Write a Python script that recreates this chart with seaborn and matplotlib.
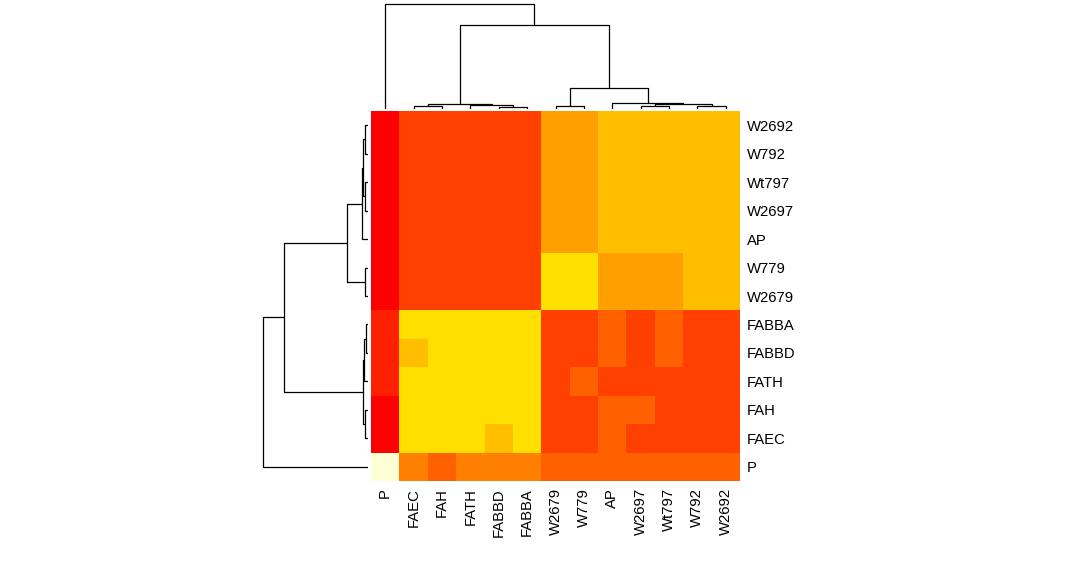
import numpy as np
import pandas as pd
import seaborn as sns
from matplotlib import pyplot as plt
from matplotlib.colors import ListedColormap

# -------------------------------------------
# data

# leaf order of the dendrogram (left -> right, bottom -> top)
leaf_order = ['P', 'FAEC', 'FAH', 'FATH', 'FABBD', 'FABBA',
              'W2679', 'W779', 'AP', 'W2697', 'Wt797', 'W792', 'W2692']
row_labels = leaf_order[::-1]
col_labels = leaf_order

# R heat.colors(12)
heat_colors = ['#FF0000', '#FF2000', '#FF4000', '#FF6000', '#FF8000', '#FF9F00',
               '#FFBF00', '#FFDF00', '#FFFF00', '#FFFF2A', '#FFFF80', '#FFFFD5']

# colour level of each cell, rows top -> bottom
levels = [
    [0, 2, 2, 2, 2, 2, 5, 5, 6, 6, 6, 6, 6],   # W2692
    [0, 2, 2, 2, 2, 2, 5, 5, 6, 6, 6, 6, 6],   # W792
    [0, 2, 2, 2, 2, 2, 5, 5, 6, 6, 6, 6, 6],   # Wt797
    [0, 2, 2, 2, 2, 2, 5, 5, 6, 6, 6, 6, 6],   # W2697
    [0, 2, 2, 2, 2, 2, 5, 5, 6, 6, 6, 6, 6],   # AP
    [0, 2, 2, 2, 2, 2, 7, 7, 5, 5, 5, 6, 6],   # W779
    [0, 2, 2, 2, 2, 2, 7, 7, 5, 5, 5, 6, 6],   # W2679
    [1, 7, 7, 7, 7, 7, 2, 2, 3, 2, 3, 2, 2],   # FABBA
    [1, 6, 7, 7, 7, 7, 2, 2, 3, 2, 3, 2, 2],   # FABBD
    [1, 7, 7, 7, 7, 7, 2, 3, 2, 2, 2, 2, 2],   # FATH
    [0, 7, 7, 7, 7, 7, 2, 2, 3, 3, 2, 2, 2],   # FAH
    [0, 7, 7, 7, 6, 7, 2, 2, 3, 2, 2, 2, 2],   # FAEC
    [11, 4, 3, 4, 4, 4, 3, 3, 3, 3, 3, 3, 3],  # P
]

# hierarchical clustering merges: (left, right, height), node ids n0, n1, ...
merges = [
    ('FABBD', 'FABBA', 1.8),   # n0
    ('FAEC', 'FAH', 2.4),      # n1
    ('W2679', 'W779', 2.5),    # n2
    ('W2697', 'Wt797', 2.5),   # n3
    ('W792', 'W2692', 2.5),    # n4
    ('FATH', 'n0', 3.4),       # n5
    ('n3', 'n4', 4.2),         # n6
    ('n1', 'n5', 4.9),         # n7
    ('AP', 'n6', 5.2),         # n8
    ('n2', 'n8', 20.5),        # n9
    ('n7', 'n9', 83.4),        # n10
    ('P', 'n10', 104.4),       # n11
]

# -------------------------------------------
# helpers

def dendro_segments():
    pos = {lab: i + 0.5 for i, lab in enumerate(leaf_order)}
    hgt = {lab: 0.0 for lab in leaf_order}
    segs = []
    for k, (a, b, h) in enumerate(merges):
        xa, xb = pos[a], pos[b]
        segs.append(([xa, xa, xb, xb], [hgt[a], h, h, hgt[b]]))
        pos[f'n{k}'] = (xa + xb) / 2
        hgt[f'n{k}'] = h
    return segs


def px(x0, y0, w, h, W=1079, H=561):
    # pixel box (top-left origin) -> figure fraction
    return [x0 / W, 1 - (y0 + h) / H, w / W, h / H]

# -------------------------------------------
# plot

sns.set_style('white')
plt.rcParams['font.family'] = ['Liberation Sans', 'DejaVu Sans']

fig = plt.figure(figsize=(10.79, 5.61), dpi=100)

ax_hm = fig.add_axes(px(371, 111, 369, 370))
ax_top = fig.add_axes(px(371, 0, 369, 108.5))
ax_left = fig.add_axes(px(259, 111, 108.5, 370))

df = pd.DataFrame(levels, index=row_labels, columns=col_labels)
sns.heatmap(df, ax=ax_hm, cmap=ListedColormap(heat_colors), vmin=-0.5, vmax=11.5,
            cbar=False, linewidths=0, xticklabels=True, yticklabels=True)
ax_hm.yaxis.tick_right()
ax_hm.tick_params(axis='both', length=0, labelsize=10.7, pad=5, labelcolor='black')
ax_hm.set_yticklabels(row_labels, rotation=0)
ax_hm.set_xticklabels(col_labels, rotation=90)
ax_hm.set_xlabel('')
ax_hm.set_ylabel('')
for s in ax_hm.spines.values():
    s.set_visible(False)

top = 104.4 * 108.5 / 104.5
for xs, ys in dendro_segments():
    ax_top.plot(xs, ys, color='black', lw=0.9, solid_capstyle='butt')
    ax_left.plot(ys, xs, color='black', lw=0.9, solid_capstyle='butt')

ax_top.set_xlim(0, len(leaf_order))
ax_top.set_ylim(0, top)
ax_left.set_ylim(0, len(leaf_order))
ax_left.set_xlim(top, 0)

for ax in (ax_top, ax_left):
    ax.set_axis_off()

fig.savefig('out.png', dpi=100, facecolor='white')
